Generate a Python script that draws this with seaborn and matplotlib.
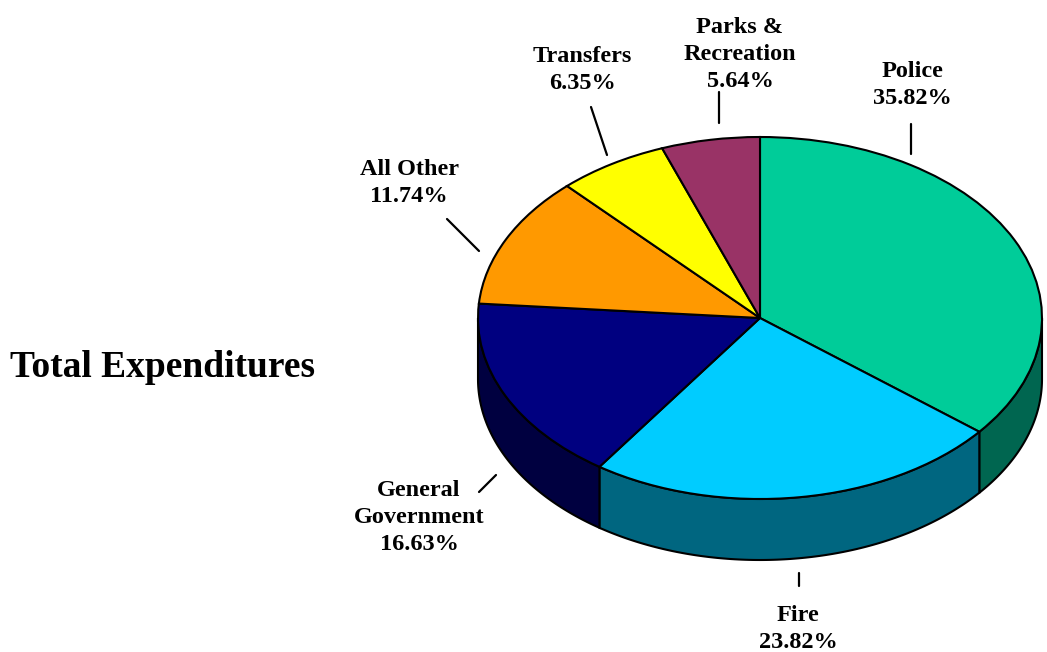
import numpy as np
import matplotlib
matplotlib.use("Agg")
import matplotlib.pyplot as plt
import seaborn as sns
from matplotlib.patches import Polygon

# ---- data ----
categories = ["Police", "Fire", "General\nGovernment", "All Other", "Transfers", "Parks &\nRecreation"]
shares = [35.82, 23.82, 16.63, 11.74, 6.35, 5.64]
top_colors = ["#00CC99", "#00CCFF", "#000080", "#FF9900", "#FFFF00", "#993366"]
side_colors = ["#006650", "#006680", "#000040", "#804C00", "#808000", "#4C1933"]
title = "Total Expenditures"

# ---- layout (pixels) ----
W, H = 1047, 652
cx, cy = 760, 318          # pie centre (from top)
rx, ry = 282, 181          # ellipse radii
depth_px = 61
# label anchor (centre x, last-line baseline y) and leader line ends in pixels
label_pos = [(912, 104), (798, 648), (419, 550), (409, 202), (582, 89), (740, 87)]
leaders = [((911, 124), (911, 154)), ((799, 573), (799, 586)), ((479, 492), (496, 475)),
           ((447, 219), (479, 251)), ((591, 107), (607, 155)), ((719, 92), (719, 123))]

sns.set_theme(style="white")
plt.rcParams["font.family"] = ["Liberation Serif", "DejaVu Serif"]

fig = plt.figure(figsize=(W / 100, H / 100), dpi=100)
ax = fig.add_axes([0, 0, 1, 1])


def px(x, y):
    return (x - cx) / rx, (cy - y) / ry


depth = depth_px / ry

# top face
wedges, _ = ax.pie(shares, startangle=90, counterclock=False, colors=top_colors,
                   radius=1, center=(0, 0),
                   wedgeprops=dict(edgecolor="black", linewidth=1.5, zorder=3))

# side faces (visible lower half only)
cum = np.concatenate([[0], np.cumsum(shares)]) / sum(shares) * 360
for i in range(len(shares)):
    a_start = 90 - cum[i]
    a_end = 90 - cum[i + 1]
    lo, hi = max(a_end, -180), min(a_start, 0)
    if hi <= lo:
        continue
    t = np.radians(np.linspace(lo, hi, 120))
    top = np.column_stack([np.cos(t), np.sin(t)])
    bot = np.column_stack([np.cos(t[::-1]), np.sin(t[::-1]) - depth])
    poly = Polygon(np.vstack([top, bot]), closed=True, facecolor=side_colors[i],
                   edgecolor="black", linewidth=1.5, zorder=2)
    ax.add_patch(poly)

# labels and leader lines
for i, name in enumerate(categories):
    x, y = px(*label_pos[i])
    ax.text(x, y, f"{name}\n{shares[i]:.2f}%", ha="center", va="baseline",
            fontsize=17.5, fontweight="bold", linespacing=1.38, color="black", zorder=5)
    (x1, y1), (x2, y2) = leaders[i]
    p1, p2 = px(x1, y1), px(x2, y2)
    ax.plot([p1[0], p2[0]], [p1[1], p2[1]], color="black", linewidth=1.6, zorder=5)

tx, ty = px(162, 377)
ax.text(tx, ty, title, ha="center", va="baseline", fontsize=27, fontweight="bold", color="black")

ax.set_aspect("auto")
ax.set_xlim(-cx / rx, (W - cx) / rx)
ax.set_ylim(-(H - cy) / ry, cy / ry)
ax.axis("off")

fig.savefig("out.png", dpi=100, facecolor="white")
